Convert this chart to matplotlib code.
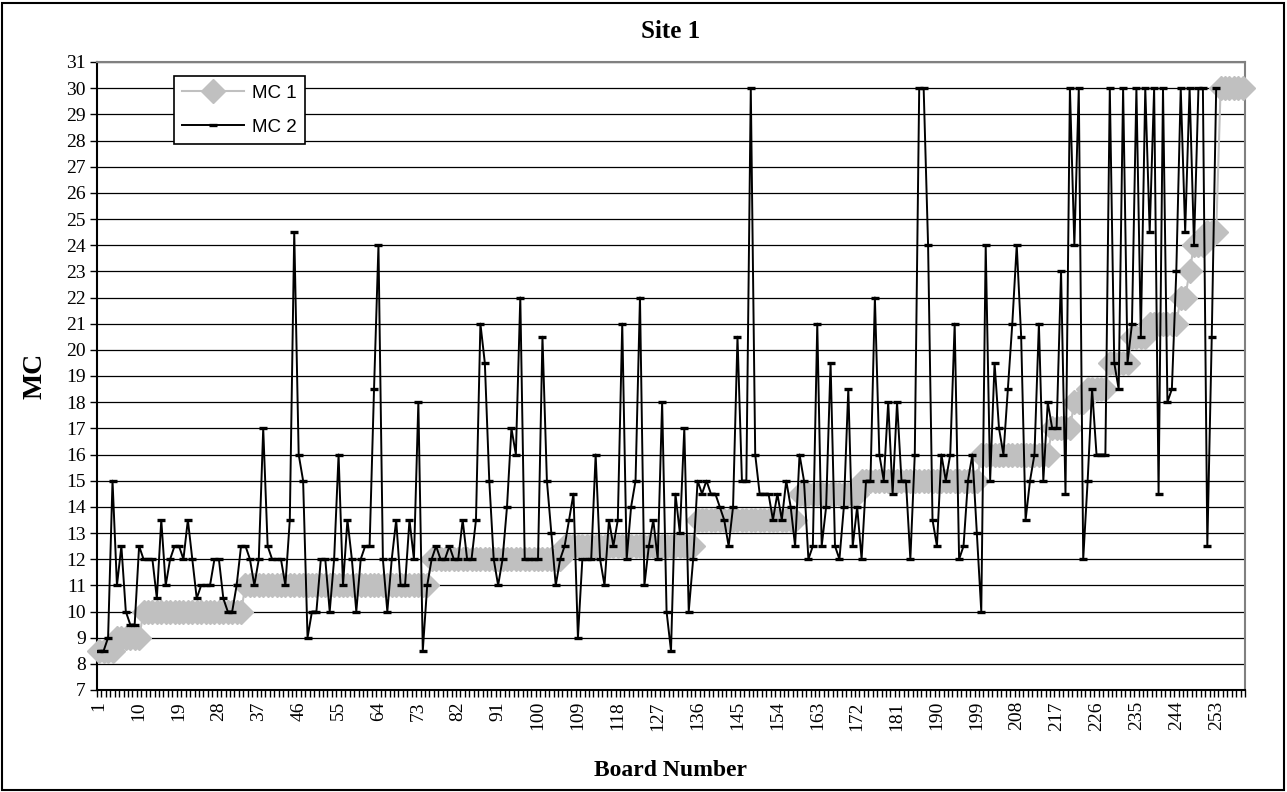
import matplotlib
matplotlib.use('Agg')
import matplotlib.pyplot as plt
from matplotlib.patches import Rectangle
import numpy as np

plt.rcParams['font.family'] = ['Liberation Serif', 'DejaVu Serif']

# board numbers 1..259
boards = list(range(1, 260))

# MC 1 (sorted step series)
mc1 = [
    8.5, 8.5, 8.5, 8.5,
    9, 9, 9, 9, 9, 9,
    10, 10, 10, 10, 10, 10, 10, 10, 10, 10,
    10, 10, 10, 10, 10, 10, 10, 10, 10, 10,
    10, 10, 10,
    11, 11, 11, 11, 11, 11, 11, 11, 11, 11,
    11, 11, 11, 11, 11, 11, 11, 11, 11, 11,
    11, 11, 11, 11, 11, 11, 11, 11, 11, 11,
    11, 11, 11, 11, 11, 11, 11, 11, 11, 11,
    11, 11,
    12, 12, 12, 12, 12, 12, 12, 12, 12, 12,
    12, 12, 12, 12, 12, 12, 12, 12, 12, 12,
    12, 12, 12, 12, 12, 12, 12, 12, 12, 12,
    12.5, 12.5, 12.5, 12.5, 12.5, 12.5, 12.5, 12.5, 12.5, 12.5,
    12.5, 12.5, 12.5, 12.5, 12.5, 12.5, 12.5, 12.5, 12.5, 12.5,
    12.5, 12.5, 12.5, 12.5, 12.5, 12.5, 12.5, 12.5, 12.5, 12.5,
    13.5, 13.5, 13.5, 13.5, 13.5, 13.5, 13.5, 13.5, 13.5, 13.5,
    13.5, 13.5, 13.5, 13.5, 13.5, 13.5, 13.5, 13.5, 13.5, 13.5,
    13.5, 13.5, 13.5,
    14.5, 14.5, 14.5, 14.5, 14.5, 14.5, 14.5, 14.5, 14.5, 14.5,
    14.5, 14.5, 14.5, 14.5,
    15, 15, 15, 15, 15, 15, 15, 15, 15, 15,
    15, 15, 15, 15, 15, 15, 15, 15, 15, 15,
    15, 15, 15, 15, 15, 15, 15,
    16, 16, 16, 16, 16, 16, 16, 16, 16, 16,
    16, 16, 16, 16, 16, 16,
    17, 17, 17, 17, 17,
    18, 18, 18,
    18.5, 18.5, 18.5, 18.5, 18.5,
    19.5, 19.5, 19.5, 19.5, 19.5,
    20.5, 20.5, 20.5, 20.5,
    21, 21, 21, 21, 21, 21, 21,
    22, 22,
    23,
    24, 24, 24,
    24.5, 24.5, 24.5,
    30, 30, 30, 30, 30, 30,
]

# MC 2 (10 boards per row; None = no value shown)
mc2 = [
    8.5, 8.5, 9, 15, 11, 12.5, 10, 9.5, 9.5, 12.5,
    12, 12, 12, 10.5, 13.5, 11, 12, 12.5, 12.5, 12,
    13.5, 12, 10.5, 11, 11, 11, 12, 12, 10.5, 10,
    10, 11, 12.5, 12.5, 12, 11, 12, 17, 12.5, 12,
    12, 12, 11, 13.5, 24.5, 16, 15, 9, 10, 10,
    12, 12, 10, 12, 16, 11, 13.5, 12, 10, 12,
    12.5, 12.5, 18.5, 24, 12, 10, 12, 13.5, 11, 11,
    13.5, 12, 18, 8.5, 11, 12, 12.5, 12, 12, 12.5,
    12, 12, 13.5, 12, 12, 13.5, 21, 19.5, 15, 12,
    11, 12, 14, 17, 16, 22, 12, 12, 12, 12,
    20.5, 15, 13, 11, 12, 12.5, 13.5, 14.5, 9, 12,
    12, 12, 16, 12, 11, 13.5, 12.5, 13.5, 21, 12,
    14, 15, 22, 11, 12.5, 13.5, 12, 18, 10, 8.5,
    14.5, 13, 17, 10, 12, 15, 14.5, 15, 14.5, 14.5,
    14, 13.5, 12.5, 14, 20.5, 15, 15, 30, 16, 14.5,
    14.5, 14.5, 13.5, 14.5, 13.5, 15, 14, 12.5, 16, 15,
    12, 12.5, 21, 12.5, 14, 19.5, 12.5, 12, 14, 18.5,
    12.5, 14, 12, 15, 15, 22, 16, 15, 18, 14.5,
    18, 15, 15, 12, 16, 30, 30, 24, 13.5, 12.5,
    16, 15, 16, 21, 12, 12.5, 15, 16, 13, 10,
    24, 15, 19.5, 17, 16, 18.5, 21, 24, 20.5, 13.5,
    15, 16, 21, 15, 18, 17, 17, 23, 14.5, 30,
    24, 30, 12, 15, 18.5, 16, 16, 16, 30, 19.5,
    18.5, 30, 19.5, 21, 30, 20.5, 30, 24.5, 30, 14.5,
    30, 18, 18.5, 23, 30, 24.5, 30, 24, 30, 30,
    12.5, 20.5, 30, None, None, None, None, None, None,
]

label_boards = list(range(1, 260, 9))
y_ticks = list(range(7, 32))

assert len(mc1) == len(boards) and len(mc2) == len(boards)

W, H = 1287, 792
fig = plt.figure(figsize=(W / 100, H / 100), dpi=100)
ax = fig.add_axes([97 / W, 1 - 690 / H, (1245 - 97) / W, (690 - 62) / H])

ax.plot(boards, mc1, color='#C0C0C0', lw=1.5, marker='D', ms=12.5,
        mfc='#C0C0C0', mec='#C0C0C0', label='MC 1', zorder=3, clip_on=False)
ax.plot(boards, np.array(mc2, dtype=float), color='black', lw=1.4,
        marker='_', ms=6, mew=2.4, label='MC 2', zorder=4)

ax.set_xlim(0.5, len(boards) + 0.5)
ax.set_ylim(7, 31)
ax.set_yticks(y_ticks)
ax.set_yticklabels([str(v) for v in y_ticks])
ax.grid(axis='y', color='black', lw=0.9)
ax.set_axisbelow(True)

ax.set_xticks(label_boards)
ax.set_xticklabels([str(b) for b in label_boards], rotation=90)
ax.set_xticks(np.arange(0.5, len(boards) + 1, 1), minor=True)
ax.tick_params(axis='x', which='major', length=0, pad=8, labelsize=14)
ax.tick_params(axis='x', which='minor', length=5, width=1, direction='out')
ax.tick_params(axis='y', length=5, width=1, direction='out', labelsize=14, pad=3)

for s in ['left', 'bottom']:
    ax.spines[s].set_color('black')
    ax.spines[s].set_linewidth(1.5)
for s in ['top', 'right']:
    ax.spines[s].set_color('#808080')
    ax.spines[s].set_linewidth(1.5)

leg = ax.legend(loc='upper left', bbox_to_anchor=(174 / W, 1 - 76 / H),
                bbox_transform=fig.transFigure, fancybox=False, framealpha=1,
                edgecolor='black', prop={'family': 'Liberation Sans', 'size': 13.5},
                handlelength=3.3, labelspacing=0.9, borderpad=0.45,
                handletextpad=0.4, borderaxespad=0)
leg.get_frame().set_linewidth(1.2)

fig.text(671 / W, 1 - 31 / H, 'Site 1', ha='center', va='center',
         fontsize=18, fontweight='bold')
fig.text(35 / W, 1 - 376 / H, 'MC', ha='center', va='center', rotation=90,
         fontsize=20, fontweight='bold')
fig.text(671 / W, 1 - 770 / H, 'Board Number', ha='center', va='center',
         fontsize=17, fontweight='bold')

fig.add_artist(Rectangle((2 / W, 2 / H), (W - 5) / W, (H - 5) / H,
                         transform=fig.transFigure, fill=False,
                         ec='black', lw=1.5))

fig.savefig('out.png', dpi=100)
